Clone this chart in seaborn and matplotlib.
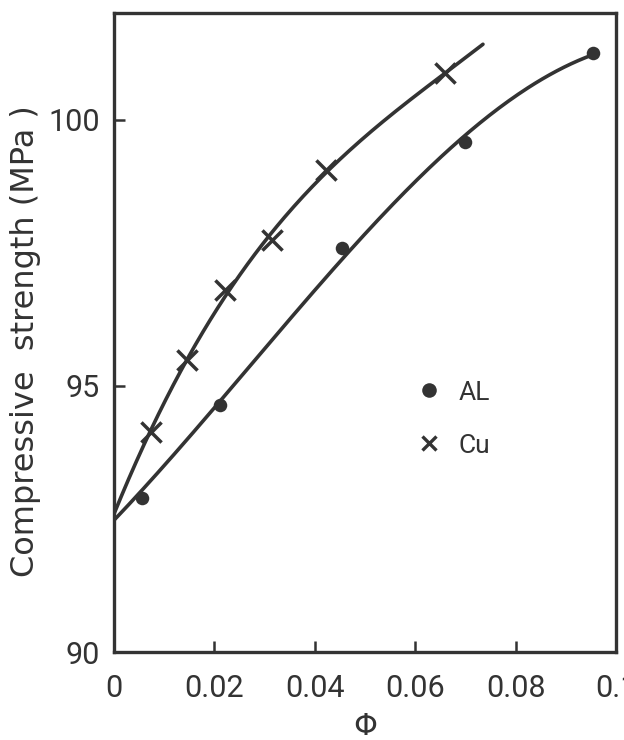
import numpy as np
import pandas as pd
import seaborn as sns
import matplotlib
matplotlib.use("Agg")
import matplotlib.pyplot as plt
from matplotlib.lines import Line2D

# ---- data ----
al_phi = [0.0, 0.0055, 0.0212, 0.0455, 0.0700, 0.0954]
al_strength = [92.6, 92.90, 94.63, 97.58, 99.57, 101.25]
al_curve_end = 0.0954

cu_phi = [0.0, 0.0073, 0.0145, 0.0222, 0.0315, 0.0422, 0.0660]
cu_strength = [92.6, 94.13, 95.48, 96.80, 97.74, 99.06, 100.87]
cu_curve_end = 0.0735

x_ticks = [0, 0.02, 0.04, 0.06, 0.08, 0.1]
x_tick_labels = ["0", "0.02", "0.04", "0.06", "0.08", "0.1"]
y_ticks = [90, 95, 100]
y_tick_labels = ["90", "95", "100"]

INK = "#333333"

sns.set_theme(style="white")
plt.rcParams["font.family"] = ["Roboto", "DejaVu Sans"]

fig = plt.figure(figsize=(6.24, 7.40), dpi=100)
ax = fig.add_axes([114 / 624, 88 / 740, (616 - 114) / 624, (652 - 13) / 740])

def fitted(xs, ys, x_end, deg=3):
    coefs = np.polyfit(xs, ys, deg)
    grid = np.linspace(0, x_end, 200)
    return pd.DataFrame({"phi": grid, "strength": np.polyval(coefs, grid)})

al_fit = fitted(al_phi, al_strength, al_curve_end)
cu_fit = fitted(cu_phi, cu_strength, cu_curve_end)

sns.lineplot(data=al_fit, x="phi", y="strength", ax=ax, color=INK, lw=2.6, legend=False)
sns.lineplot(data=cu_fit, x="phi", y="strength", ax=ax, color=INK, lw=2.6, legend=False)

al_df = pd.DataFrame({"phi": al_phi[1:], "strength": al_strength[1:]})
cu_df = pd.DataFrame({"phi": cu_phi[1:], "strength": cu_strength[1:]})
sns.scatterplot(data=al_df, x="phi", y="strength", ax=ax, marker="o", s=95,
                color=INK, edgecolor=INK, linewidth=0, zorder=3, legend=False)
sns.scatterplot(data=cu_df, x="phi", y="strength", ax=ax, marker="x", s=210,
                color=INK, linewidth=2.5, zorder=3, legend=False)

ax.set_xlim(0, 0.1)
ax.set_ylim(90, 102)
ax.set_xticks(x_ticks)
ax.set_xticklabels(x_tick_labels)
ax.set_yticks(y_ticks)
ax.set_yticklabels(y_tick_labels)

ax.tick_params(axis="both", direction="in", length=8, width=1.8, color=INK,
               labelcolor=INK, labelsize=22)
ax.tick_params(axis="x", pad=16)
ax.tick_params(axis="y", pad=10)
ax.xaxis.set_ticks_position("bottom")
ax.yaxis.set_ticks_position("left")
for sp in ax.spines.values():
    sp.set_color(INK)
    sp.set_linewidth(2.4)

ax.set_xlabel("Φ", fontsize=22, color=INK, labelpad=6, family=["DejaVu Sans"])
ax.set_ylabel("Compressive  strength (MPa )", fontsize=23, color=INK,
              family=["DejaVu Sans"])
ax.yaxis.set_label_coords(-0.145, 0.486)

handles = [
    Line2D([], [], ls="none", marker="o", ms=10.5, color=INK, mew=0),
    Line2D([], [], ls="none", marker="x", ms=10, color=INK, mew=2.4),
]
ax.legend(handles, ["AL", "Cu"], frameon=False, loc="upper left",
          bbox_to_anchor=(0.565, 0.462), fontsize=19, handlelength=0.6,
          handletextpad=0.8, labelspacing=1.1, labelcolor=INK)

fig.savefig("out.png", dpi=100, facecolor="white")
